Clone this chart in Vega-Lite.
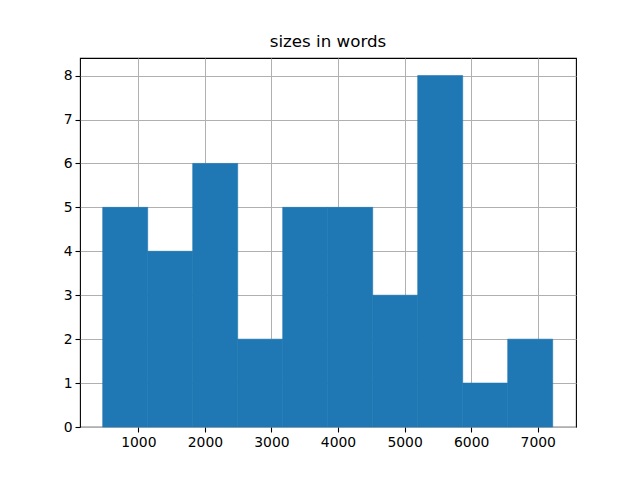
{
  "$schema": "https://vega.github.io/schema/vega-lite/v6.json",
  "width": 496,
  "height": 369,
  "autosize": {"type": "none"},
  "padding": {"left": 80, "top": 58, "right": 64, "bottom": 53},
  "background": "white",
  "title": {"text": "sizes in words", "fontSize": 16.7, "font": "DejaVu Sans", "fontWeight": "normal", "color": "black", "offset": 7, "anchor": "middle"},
  "config": {
    "view": {"stroke": "black", "strokeWidth": 1.1},
    "axis": {
      "domain": false,
      "grid": true,
      "gridColor": "#b0b0b0",
      "gridWidth": 1,
      "zindex": 1,
      "ticks": true,
      "tickColor": "black",
      "tickSize": 5,
      "tickWidth": 1.1,
      "labelFont": "DejaVu Sans",
      "labelFontSize": 13.9,
      "labelColor": "black",
      "labelPadding": 3,
      "title": null
    }
  },
  "data": {
    "values": [
      {"start": 465, "end": 1141, "count": 5},
      {"start": 1141, "end": 1817, "count": 4},
      {"start": 1817, "end": 2493, "count": 6},
      {"start": 2493, "end": 3169, "count": 2},
      {"start": 3169, "end": 3845, "count": 5},
      {"start": 3845, "end": 4521, "count": 5},
      {"start": 4521, "end": 5197, "count": 3},
      {"start": 5197, "end": 5873, "count": 8},
      {"start": 5873, "end": 6549, "count": 1},
      {"start": 6549, "end": 7225, "count": 2}
    ]
  },
  "mark": {"type": "bar", "color": "#1f77b4", "stroke": "#1f77b4", "strokeWidth": 0.6},
  "encoding": {
    "x": {"field": "start", "type": "quantitative", "scale": {"domain": [124, 7575], "nice": false, "zero": false, "padding": 0},
          "axis": {"values": [1000, 2000, 3000, 4000, 5000, 6000, 7000], "format": "d", "title": null}},
    "x2": {"field": "end"},
    "y": {"field": "count", "type": "quantitative", "scale": {"domain": [0, 8.4], "nice": false, "padding": 0},
          "axis": {"values": [0, 1, 2, 3, 4, 5, 6, 7, 8], "format": "d", "title": null}},
    "y2": {"datum": 0}
  }
}
